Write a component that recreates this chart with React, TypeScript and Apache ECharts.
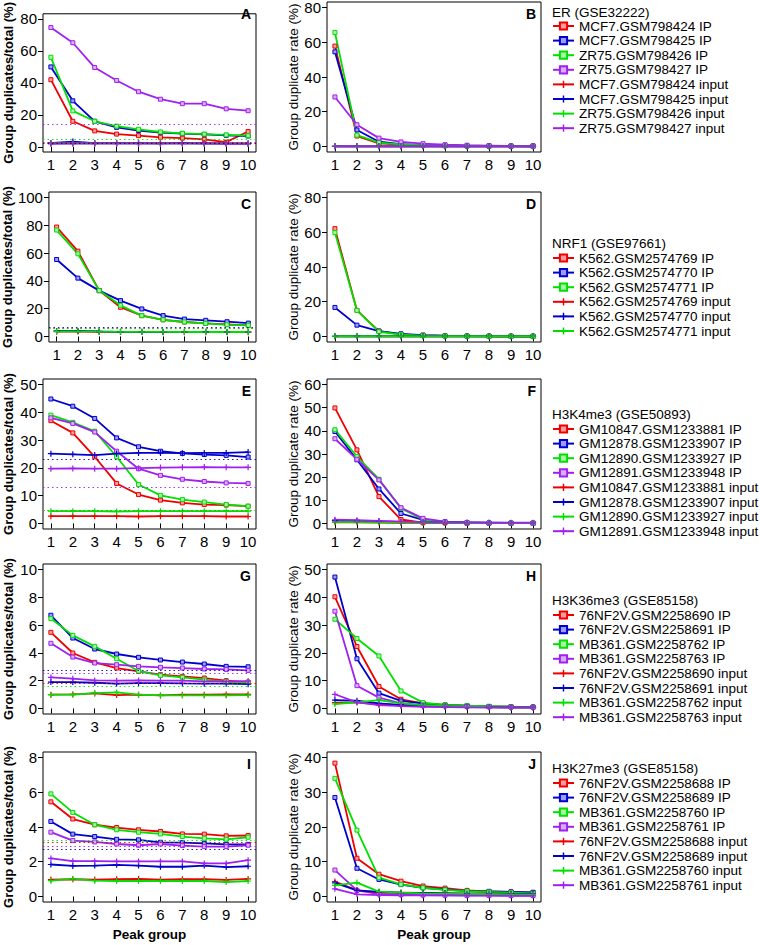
import React, { useEffect, useRef } from "react";
import * as echarts from "echarts";

const PEAK_GROUPS = [1, 2, 3, 4, 5, 6, 7, 8, 9, 10];
const COLORS = ["#EE0000", "#0000CD", "#00E000", "#A020F0"];
const FILLS = ["#FF9C9C", "#9C9CFF", "#A8F5A8", "#D9AEF8"];
const FONT = "'Liberation Sans', Arial, sans-serif";

const ROW_TITLES = ["ER (GSE32222)", "NRF1 (GSE97661)", "H3K4me3 (GSE50893)", "H3K36me3 (GSE85158)", "H3K27me3 (GSE85158)"];
const ER_SAMPLES = ["MCF7.GSM798424", "MCF7.GSM798425", "ZR75.GSM798426", "ZR75.GSM798427"];
const NRF1_SAMPLES = ["K562.GSM2574769", "K562.GSM2574770", "K562.GSM2574771"];
const H3K4_SAMPLES = ["GM10847.GSM1233881", "GM12878.GSM1233907", "GM12890.GSM1233927", "GM12891.GSM1233948"];
const H3K36_SAMPLES = ["76NF2V.GSM2258690", "76NF2V.GSM2258691", "MB361.GSM2258762", "MB361.GSM2258763"];
const H3K27_SAMPLES = ["76NF2V.GSM2258688", "76NF2V.GSM2258689", "MB361.GSM2258760", "MB361.GSM2258761"];

const LEFT_TICKS = [[0, 20, 40, 60, 80], [0, 20, 40, 60, 80, 100], [0, 10, 20, 30, 40, 50], [0, 2, 4, 6, 8, 10], [0, 2, 4, 6, 8]];
const RIGHT_TICKS = [[0, 20, 40, 60, 80], [0, 20, 40, 60, 80], [0, 10, 20, 30, 40, 50, 60], [0, 10, 20, 30, 40, 50], [0, 10, 20, 30, 40]];

// Panel A: group duplicates / total (%), ER
const A_IP = [
  [42, 16, 10, 8, 7, 6, 5.5, 4.7, 3.0, 9.6],
  [50, 28.8, 16, 12.2, 10.2, 9, 8.3, 7.8, 7.2, 6.8],
  [56, 22.5, 16, 13, 11, 9.3, 8.5, 8, 7.5, 7],
  [74.6, 65.1, 49.6, 41.5, 34.5, 29.8, 27, 27, 23.8, 22.6],
];
const A_INPUT = [
  [2.5, 2.6, 2.4, 2.4, 2.4, 2.3, 2.3, 2.3, 2.2, 2.2],
  [2.3, 3.3, 2.3, 2.3, 2.3, 2.2, 2.5, 2.2, 2.2, 2.0],
  [2.2, 2.3, 2.2, 2.2, 2.2, 2.2, 2.2, 2.1, 2.1, 2.0],
  [1.9, 2.0, 2.0, 2.0, 2.0, 2.0, 2.0, 2.0, 1.9, 1.9],
];
const A_REF = [2.7, 2.5, 5.0, 14.2];

// Panel B: group duplicate rate (%), ER
const B_IP = [
  [57.8, 6, 1.8, 1, 0.6, 0.4, 0.3, 0.2, 0.15, 0.3],
  [54.5, 9.5, 2.7, 1.3, 0.8, 0.5, 0.3, 0.2, 0.2, 0.1],
  [65.6, 6.5, 2.2, 1.2, 0.8, 0.5, 0.3, 0.2, 0.2, 0.1],
  [28.5, 12.5, 4.8, 2.6, 1.6, 1.0, 0.7, 0.5, 0.3, 0.3],
];
const B_INPUT = [
  [0.1, 0.1, 0.1, 0.1, 0.1, 0.1, 0.1, 0.1, 0.1, 0.1],
  [0.1, 0.1, 0.1, 0.1, 0.1, 0.1, 0.1, 0.1, 0.1, 0.1],
  [0.1, 0.1, 0.1, 0.1, 0.1, 0.1, 0.1, 0.1, 0.1, 0.1],
  [0.1, 0.1, 0.1, 0.1, 0.1, 0.1, 0.1, 0.1, 0.1, 0.1],
];

// Panel C: NRF1
const C_IP = [
  [78.8, 61.4, 33, 21, 15, 12, 10.4, 9.4, 8.7, 8],
  [55.4, 42, 33, 25.8, 19.8, 15, 12.5, 11.6, 10.6, 9.6],
  [76.6, 59.5, 33, 22.4, 15, 12, 10.4, 9.4, 8.4, 8],
];
const C_INPUT = [
  [3.4, 3.5, 3.3, 3.2, 3.2, 3.1, 3.1, 3.1, 3.1, 3.1],
  [4.0, 4.0, 3.6, 3.3, 3.3, 3.2, 3.2, 3.3, 3.2, 3.2],
  [3.6, 3.7, 3.4, 3.3, 3.3, 3.3, 3.2, 3.2, 3.2, 3.2],
];
const C_REF = [6.2, 6.5, 6.0];

// Panel D: NRF1
const D_IP = [
  [62.1, 15, 3.1, 1.2, 0.6, 0.3, 0.2, 0.1, 0.1, 0.1],
  [16.7, 6.5, 3.1, 1.5, 0.8, 0.4, 0.2, 0.15, 0.1, 0.1],
  [59.8, 15, 2.7, 1.1, 0.5, 0.3, 0.2, 0.1, 0.1, 0.1],
];
const D_INPUT = [
  [0.1, 0.1, 0.1, 0.1, 0.1, 0.1, 0.1, 0.1, 0.1, 0.1],
  [0.1, 0.1, 0.1, 0.1, 0.1, 0.1, 0.1, 0.1, 0.1, 0.1],
  [0.1, 0.1, 0.1, 0.1, 0.1, 0.1, 0.1, 0.1, 0.1, 0.1],
];

// Panel E: H3K4me3
const E_IP = [
  [37, 32.6, 24, 14.4, 10.4, 8.4, 7.4, 6.8, 6.6, 6.2],
  [44.8, 42.2, 37.8, 30.8, 27.6, 26, 25.2, 24.8, 24.5, 23.9],
  [39, 36.4, 33.2, 24, 14, 10.1, 8.6, 7.7, 6.8, 6.2],
  [38, 36, 32.9, 26, 19.7, 17.3, 15.9, 15.1, 14.6, 14.4],
];
const E_INPUT = [
  [2.6, 2.6, 2.6, 2.6, 2.5, 2.6, 2.6, 2.6, 2.5, 2.5],
  [25.1, 24.9, 24.6, 25.1, 25.4, 25.4, 25.3, 25.4, 25.4, 25.7],
  [4.4, 4.4, 4.4, 4.3, 4.4, 4.4, 4.4, 4.4, 4.4, 4.4],
  [19.7, 19.8, 19.7, 19.7, 19.9, 20.1, 20.2, 20.3, 20.2, 20.2],
];
const E_REF = [4.6, 23.0, 4.8, 13.2];

// Panel F: H3K4me3
const F_IP = [
  [49.9, 31.8, 11.6, 1.7, 0.3, 0.2, 0.1, 0.1, 0.1, 0.1],
  [39.7, 27.5, 14.9, 4.3, 1.5, 0.6, 0.3, 0.2, 0.1, 0.1],
  [40.5, 28.9, 19.1, 6.5, 1.7, 0.7, 0.4, 0.2, 0.1, 0.1],
  [36.6, 27.7, 18.8, 6.8, 2.2, 0.8, 0.4, 0.2, 0.1, 0.1],
];
const F_INPUT = [
  [0.5, 0.5, 0.4, 0.3, 0.3, 0.2, 0.2, 0.2, 0.2, 0.2],
  [1.2, 1.1, 0.9, 0.7, 0.5, 0.4, 0.3, 0.3, 0.2, 0.2],
  [0.6, 0.6, 0.5, 0.4, 0.3, 0.3, 0.2, 0.2, 0.2, 0.2],
  [1.6, 1.4, 1.1, 0.8, 0.6, 0.5, 0.4, 0.3, 0.3, 0.3],
];

// Panel G: H3K36me3
const G_IP = [
  [5.48, 3.99, 3.32, 2.91, 2.67, 2.43, 2.31, 2.19, 2.0, 1.9],
  [6.71, 5.07, 4.28, 3.92, 3.68, 3.49, 3.34, 3.2, 3.03, 3.0],
  [6.47, 5.26, 4.47, 3.58, 2.69, 2.38, 2.24, 2.07, 1.92, 1.88],
  [4.69, 3.7, 3.27, 3.15, 3.03, 2.96, 2.91, 2.84, 2.81, 2.74],
];
const G_INPUT = [
  [0.99, 1.01, 1.08, 0.96, 0.99, 0.94, 0.99, 0.99, 1.01, 1.01],
  [1.9, 1.9, 1.85, 1.78, 1.83, 1.83, 1.8, 1.78, 1.78, 1.75],
  [0.99, 1.0, 1.1, 1.15, 0.99, 0.94, 0.94, 0.94, 0.94, 0.96],
  [2.24, 2.14, 2.02, 2.0, 2.02, 2.0, 2.0, 1.95, 1.95, 1.97],
];
const G_REF = [1.85, 2.75, 1.62, 2.55];

// Panel H: H3K36me3
const H_IP = [
  [40.2, 22.3, 7.9, 3.3, 1.8, 1.3, 0.9, 0.7, 0.6, 0.5],
  [47.3, 17.9, 5.5, 2.7, 1.8, 1.2, 1.0, 0.7, 0.6, 0.5],
  [32.1, 25.2, 18.9, 6.3, 2.1, 1.3, 1.0, 0.8, 0.6, 0.5],
  [35, 8.2, 3.9, 1.8, 1.2, 0.9, 0.7, 0.6, 0.5, 0.4],
];
const H_INPUT = [
  [2.1, 2.2, 1.5, 1.1, 0.9, 0.7, 0.6, 0.5, 0.4, 0.4],
  [3.0, 2.8, 1.8, 1.3, 1.0, 0.8, 0.6, 0.5, 0.4, 0.4],
  [1.6, 2.2, 3.0, 1.8, 1.2, 0.9, 0.7, 0.5, 0.4, 0.4],
  [5.1, 2.2, 1.2, 0.85, 0.6, 0.5, 0.4, 0.3, 0.3, 0.3],
];

// Panel I: H3K27me3
const I_IP = [
  [5.45, 4.46, 4.13, 3.97, 3.84, 3.74, 3.6, 3.59, 3.49, 3.51],
  [4.32, 3.59, 3.45, 3.29, 3.26, 3.12, 3.1, 3.06, 3.0, 3.0],
  [5.91, 4.84, 4.13, 3.84, 3.7, 3.6, 3.45, 3.35, 3.29, 3.41],
  [3.7, 3.22, 3.14, 3.02, 2.95, 3.02, 2.93, 2.87, 2.87, 2.95],
];
const I_INPUT = [
  [0.97, 0.99, 0.97, 0.99, 1.01, 0.97, 0.99, 0.99, 0.95, 1.01],
  [1.84, 1.76, 1.78, 1.82, 1.78, 1.71, 1.71, 1.78, 1.69, 1.74],
  [0.91, 1.01, 0.91, 0.89, 0.89, 0.89, 0.89, 0.89, 0.83, 0.89],
  [2.19, 2.03, 2.03, 2.02, 2.02, 2.02, 2.02, 1.9, 1.9, 2.09],
];
const I_REF = [3.15, 2.72, 3.22, 2.9];

// Panel J: H3K27me3
const J_IP = [
  [38.4, 11.0, 6.4, 4.4, 3.0, 2.4, 1.75, 1.45, 1.3, 1.1],
  [28.5, 8.1, 4.9, 3.4, 2.5, 2.0, 1.55, 1.45, 1.3, 1.2],
  [34.0, 19.1, 5.4, 3.5, 2.5, 1.9, 1.55, 1.3, 1.1, 0.9],
  [7.6, 1.75, 0.7, 0.5, 0.4, 0.35, 0.3, 0.3, 0.25, 0.25],
];
const J_INPUT = [
  [4.3, 1.75, 1.2, 1.1, 1.0, 0.9, 0.8, 0.8, 0.7, 0.7],
  [3.9, 1.75, 1.3, 1.1, 1.0, 0.9, 0.8, 0.8, 0.7, 0.7],
  [3.2, 4.0, 1.4, 1.1, 0.9, 0.8, 0.7, 0.7, 0.6, 0.6],
  [2.2, 0.6, 0.4, 0.35, 0.3, 0.3, 0.25, 0.25, 0.2, 0.2],
];

const ROWS = [
  { title: ROW_TITLES[0], samples: ER_SAMPLES, left: { ip: A_IP, input: A_INPUT, ref: A_REF }, right: { ip: B_IP, input: B_INPUT } },
  { title: ROW_TITLES[1], samples: NRF1_SAMPLES, left: { ip: C_IP, input: C_INPUT, ref: C_REF }, right: { ip: D_IP, input: D_INPUT } },
  { title: ROW_TITLES[2], samples: H3K4_SAMPLES, left: { ip: E_IP, input: E_INPUT, ref: E_REF }, right: { ip: F_IP, input: F_INPUT } },
  { title: ROW_TITLES[3], samples: H3K36_SAMPLES, left: { ip: G_IP, input: G_INPUT, ref: G_REF }, right: { ip: H_IP, input: H_INPUT } },
  { title: ROW_TITLES[4], samples: H3K27_SAMPLES, left: { ip: I_IP, input: I_INPUT, ref: I_REF }, right: { ip: J_IP, input: J_INPUT } },
];
const PANEL_LETTERS = ["A", "B", "C", "D", "E", "F", "G", "H", "I", "J"];

// layout
const ROW_TOPS = [2, 192, 379, 564, 752];
const ROW_H = 150;
const LEFT_X = 43;
const LEFT_W = 213;
const RIGHT_X = 327;
const RIGHT_W = 214;
const LEGEND_X = 552;
const LEGEND_TITLE_Y = [12, 243, 414, 600, 768];
const LEGEND_FIRST_Y = [26, 258, 429, 615, 783];
const LEGEND_STEP = 14.6;

const CROSS = "path://M4,0H6V4H10V6H6V10H4V6H0V4H4Z";

function buildOption() {
  const grid: any[] = [];
  const xAxis: any[] = [];
  const yAxis: any[] = [];
  const series: any[] = [];
  const legend: any[] = [];
  const graphic: any[] = [];
  const xPad = (PEAK_GROUPS[PEAK_GROUPS.length - 1] - PEAK_GROUPS[0]) * 0.04;

  ROWS.forEach((row, r) => {
    [0, 1].forEach((side) => {
      const gi = r * 2 + side;
      const gx = side ? RIGHT_X : LEFT_X;
      const gw = side ? RIGHT_W : LEFT_W;
      grid.push({
        left: gx, top: ROW_TOPS[r], width: gw, height: ROW_H,
        show: true, borderColor: "#000", borderWidth: 1, backgroundColor: "transparent",
      });
      xAxis.push({
        type: "value", gridIndex: gi,
        min: PEAK_GROUPS[0] - xPad, max: PEAK_GROUPS[PEAK_GROUPS.length - 1] + xPad,
        axisLine: { show: false }, splitLine: { show: false },
        axisTick: { show: true, customValues: PEAK_GROUPS, length: 5, lineStyle: { color: "#000", width: 1 } },
        axisLabel: { customValues: PEAK_GROUPS, fontSize: 15, color: "#000", margin: 5, fontFamily: FONT },
        name: r === ROWS.length - 1 ? "Peak group" : "",
        nameLocation: "middle", nameGap: 25,
        nameTextStyle: { fontSize: 13.5, fontWeight: "bold", color: "#000", fontFamily: FONT },
      });
      const ticks = side ? RIGHT_TICKS[r] : LEFT_TICKS[r];
      const tmax = ticks[ticks.length - 1];
      yAxis.push({
        type: "value", gridIndex: gi,
        min: -0.04 * tmax, max: 1.04 * tmax,
        axisLine: { show: false }, splitLine: { show: false },
        axisTick: { show: true, customValues: ticks, length: 5, lineStyle: { color: "#000", width: 1 } },
        axisLabel: { customValues: ticks, fontSize: 15, color: "#000", margin: 6, fontFamily: FONT },
        name: side ? "Group duplicate rate (%)" : "Group duplicates/total (%)",
        nameLocation: "middle", nameGap: side ? 26 : 28, nameRotate: 90,
        nameTextStyle: side
          ? { fontSize: 13.5, color: "#000", fontFamily: FONT }
          : { fontSize: 13, fontWeight: "bold", color: "#000", fontFamily: FONT },
      });
      graphic.push({
        type: "text", x: gx + gw - 5, y: ROW_TOPS[r] + 12, silent: true,
        style: { text: PANEL_LETTERS[gi], fill: "#000", font: `bold 14px ${FONT}`, align: "right", verticalAlign: "middle" },
      });

      const panel: any = side ? row.right : row.left;
      row.samples.forEach((s, i) => {
        const ipSeries: any = {
          type: "line", name: `${s} IP`, xAxisIndex: gi, yAxisIndex: gi,
          data: PEAK_GROUPS.map((x, k) => [x, panel.ip[i][k]]),
          symbol: "rect", symbolSize: 4,
          lineStyle: { color: COLORS[i], width: 1.8 },
          itemStyle: { color: FILLS[i], borderColor: COLORS[i], borderWidth: 1 },
          emphasis: { disabled: true }, z: 3,
        };
        if (!side && panel.ref) {
          ipSeries.markLine = {
            silent: true, symbol: "none", label: { show: false },
            lineStyle: { color: COLORS[i], width: 1, type: [1.5, 3], opacity: 0.9 },
            data: [{ yAxis: panel.ref[i] }],
          };
        }
        series.push(ipSeries);
      });
      row.samples.forEach((s, i) => {
        series.push({
          type: "line", name: `${s} input`, xAxisIndex: gi, yAxisIndex: gi,
          data: PEAK_GROUPS.map((x, k) => [x, panel.input[i][k]]),
          symbol: CROSS, symbolSize: 6,
          lineStyle: { color: COLORS[i], width: 1.8 },
          itemStyle: { color: COLORS[i] },
          emphasis: { disabled: true }, z: 3,
        });
      });
    });

    legend.push({
      orient: "vertical", left: LEGEND_X, top: LEGEND_FIRST_Y[r] - LEGEND_STEP / 2,
      itemWidth: 21, itemHeight: 9, itemGap: 0, padding: 0, selectedMode: false,
      textStyle: { fontSize: 13.5, color: "#000", lineHeight: LEGEND_STEP, fontFamily: FONT },
      data: [...row.samples.map((s) => `${s} IP`), ...row.samples.map((s) => `${s} input`)],
    });
    graphic.push({
      type: "text", x: LEGEND_X, y: LEGEND_TITLE_Y[r], silent: true,
      style: { text: row.title, fill: "#000", font: `13.5px ${FONT}`, align: "left", verticalAlign: "middle" },
    });
  });

  return {
    animation: false,
    backgroundColor: "#fff",
    textStyle: { fontFamily: FONT },
    grid, xAxis, yAxis, series, legend, graphic,
  };
}

export default function App() {
  const ref = useRef<HTMLDivElement>(null);
  useEffect(() => {
    if (!ref.current) return;
    const chart = echarts.init(ref.current, undefined, { renderer: "svg" });
    chart.setOption(buildOption() as any);
    return () => chart.dispose();
  }, []);
  return <div ref={ref} style={{ position: "absolute", left: 0, top: 0, width: 760, height: 945 }} />;
}
